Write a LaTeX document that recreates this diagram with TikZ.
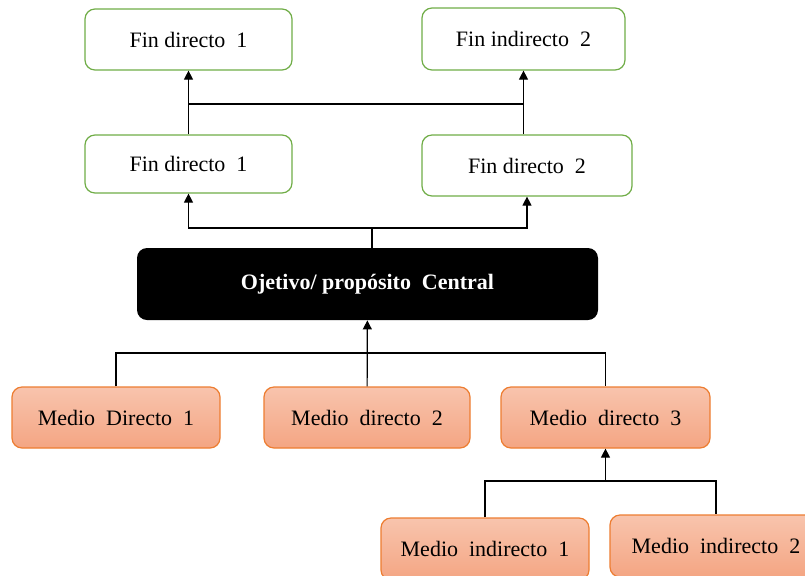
\documentclass[tikz,border=0pt]{standalone}
\usepackage{fontspec}
\setmainfont{Liberation Serif}
\usetikzlibrary{arrows.meta}
\definecolor{fingreen}{HTML}{70AD47}
\definecolor{medioline}{HTML}{ED7D31}
\definecolor{mediotop}{HTML}{F8C4AD}
\definecolor{mediobot}{HTML}{F4A583}
\tikzset{
	finbox/.style={draw=fingreen, fill=white, rounded corners=5pt, line width=0.6pt,
		align=center, font=\fontsize{11}{13}\selectfont, inner sep=0pt},
	objbox/.style={fill=black, rounded corners=5pt, text=white,
		align=center, font=\fontsize{11}{13}\selectfont\bfseries, inner sep=0pt},
	mediobox/.style={draw=medioline, top color=mediotop, bottom color=mediobot,
		rounded corners=5pt, line width=0.6pt, align=center,
		font=\fontsize{11}{13}\selectfont, inner sep=0pt},
	conn/.style={line width=0.6pt, draw=black},
	marr/.style={conn, -{Triangle[length=4.5pt, width=4.5pt]}}
}

\begin{document}
\begin{tikzpicture}[x=0.5pt, y=-0.5pt]
	\useasboundingbox (0,0) rectangle (805,575);
	\clip (0,0) rectangle (805,575);
	% fines
	\node[finbox, minimum width=103.5pt, minimum height=30.5pt] (fa) at (188.5,39.5) {Fin directo\ \ 1};
	\node[finbox, minimum width=101.5pt, minimum height=31pt] (fb) at (523.5,39) {Fin indirecto\ \ 2};
	\node[finbox, minimum width=103.5pt, minimum height=29pt] (fc) at (188.5,164) {Fin directo\ \ 1};
	\node[finbox, minimum width=105pt, minimum height=30.5pt] (fd) at (527,165.5) {Fin directo\ \ 2};
	% objetivo
	\node[objbox, minimum width=230.5pt, minimum height=36pt] (obj) at (367.5,284) {Ojetivo/\ propósito\ \ Central};
	% medios
	\node[mediobox, minimum width=104pt, minimum height=30.5pt] (m1) at (116,417.5) {Medio\ \ Directo\ \ 1};
	\node[mediobox, minimum width=103pt, minimum height=30.5pt] (m2) at (367,417.5) {Medio\ \ directo\ \ 2};
	\node[mediobox, minimum width=104.5pt, minimum height=30.5pt] (m3) at (605.5,417.5) {Medio\ \ directo\ \ 3};
	\node[mediobox, minimum width=104pt, minimum height=31pt] (mi1) at (485,549) {Medio\ \ indirecto\ \ 1};
	\node[mediobox, minimum width=106pt, minimum height=31pt] (mi2) at (716,546) {Medio\ \ indirecto\ \ 2};
	% uniones
	\coordinate (jtop) at (372,228);
	\coordinate (jmid) at (188.5,104);
	\coordinate (jlow) at (367,353);
	\coordinate (jind) at (605.5,481);
	\draw[conn] (obj.north -| jtop) -- (jtop);
	\draw[marr] (jtop) -| (fc.south);
	\draw[marr] (jtop) -| (fd.south);
	\draw[marr] (fc) -- (fa);
	\draw[marr] (fd.north -| fb.south) -- (fb.south);
	\draw[conn] (jmid) -- (jmid -| fb.south);
	\draw[marr] (m2) -- (obj);
	\draw[conn] (m1.north) |- (jlow) -| (m3.north);
	\draw[conn] (mi1.north) |- (jind) -| (mi2.north);
	\draw[marr] (jind) -- (m3.south);
\end{tikzpicture}
\end{document}
